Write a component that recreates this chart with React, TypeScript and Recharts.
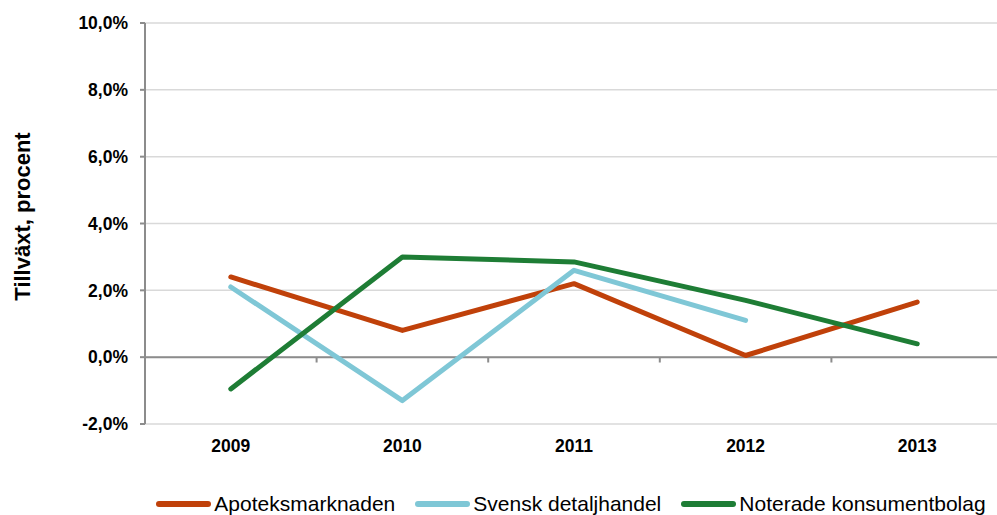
import { LineChart, Line, XAxis, YAxis, CartesianGrid, ReferenceLine, Label } from "recharts";

const years = ["2009", "2010", "2011", "2012", "2013"];
const apoteksmarknaden = [2.4, 0.8, 2.2, 0.05, 1.65];
const svenskDetaljhandel = [2.1, -1.3, 2.6, 1.1, null];
const noteradeKonsumentbolag = [-0.95, 3.0, 2.85, 1.7, 0.4];
const yTicks = [-2, 0, 2, 4, 6, 8, 10];

const series = [
  { key: "apotek", name: "Apoteksmarknaden", color: "#C0410A", values: apoteksmarknaden },
  { key: "svensk", name: "Svensk detaljhandel", color: "#7FC7D6", values: svenskDetaljhandel },
  { key: "noterade", name: "Noterade konsumentbolag", color: "#1E7D35", values: noteradeKonsumentbolag },
];

// x positions sit in the middle of each category band (Excel style)
const chartData = years.map((year, i) => {
  const row: Record<string, number | string | null> = { pos: i + 0.5, year };
  series.forEach((s) => {
    row[s.key] = s.values[i];
  });
  return row;
});

const labelTicks = years.map((_, i) => i + 0.5);
const boundaries = years.slice(1).map((_, i) => i + 1);

const font = "'Liberation Sans', Arial, sans-serif";
const axisGray = "#8C8C8C";

function YTitle(props: any) {
  const vb = props.viewBox || { x: 0, y: 0, width: 0, height: 0 };
  const cx = 22;
  const cy = vb.y + vb.height / 2 - 7;
  return (
    <text
      x={cx}
      y={cy}
      transform={`rotate(-90, ${cx}, ${cy})`}
      textAnchor="middle"
      dominantBaseline="central"
      style={{ fill: "#000", fontSize: 22, fontWeight: "bold", fontFamily: font }}
    >
      Tillväxt, procent
    </text>
  );
}

export default function App() {
  return (
    <div
      style={{
        position: "fixed",
        left: 0,
        top: 0,
        width: 997,
        height: 515,
        overflow: "hidden",
        background: "#fff",
        fontFamily: font,
      }}
    >
      <LineChart
        width={1012}
        height={515}
        data={chartData}
        margin={{ top: 23, right: 9, left: 0, bottom: 61 }}
      >
        <CartesianGrid vertical={false} stroke="#D9D9D9" strokeWidth={1.5} />
        <XAxis
          type="number"
          dataKey="pos"
          domain={[0, 5]}
          ticks={labelTicks}
          tickFormatter={(v: number) => years[Math.floor(v)]}
          axisLine={false}
          tickLine={false}
          height={30}
          tickMargin={10}
          tick={{ fill: "#000", fontSize: 17.5, fontWeight: "bold", fontFamily: font }}
        />
        <YAxis
          domain={[-2, 10]}
          ticks={yTicks}
          width={145}
          tickFormatter={(v: number) => v.toFixed(1).replace(".", ",") + "%"}
          axisLine={{ stroke: axisGray, strokeWidth: 2 }}
          tickLine={{ stroke: axisGray, strokeWidth: 2 }}
          tickSize={5}
          tickMargin={12}
          tick={{ fill: "#000", fontSize: 17.5, fontWeight: "bold", fontFamily: font }}
        >
          <Label content={<YTitle />} />
        </YAxis>
        <ReferenceLine y={0} stroke={axisGray} strokeWidth={2} />
        {boundaries.map((b) => (
          <ReferenceLine
            key={b}
            segment={[
              { x: b, y: 0 },
              { x: b, y: -0.16 },
            ]}
            stroke={axisGray}
            strokeWidth={2}
          />
        ))}
        {series.map((s) => (
          <Line
            key={s.key}
            type="linear"
            dataKey={s.key}
            name={s.name}
            stroke={s.color}
            strokeWidth={5}
            strokeLinecap="round"
            strokeLinejoin="round"
            dot={false}
            activeDot={false}
            isAnimationActive={false}
          />
        ))}
      </LineChart>
      <div
        style={{
          position: "absolute",
          left: 142,
          width: 858,
          top: 492,
          display: "flex",
          justifyContent: "center",
          gap: 20,
          fontSize: 21,
          color: "#000",
          lineHeight: "24px",
        }}
      >
        {series.map((s) => (
          <div key={s.key} style={{ display: "flex", alignItems: "center", whiteSpace: "nowrap" }}>
            <span
              style={{
                display: "inline-block",
                width: 55,
                height: 6,
                borderRadius: 3,
                background: s.color,
                marginRight: 3,
              }}
            />
            {s.name}
          </div>
        ))}
      </div>
    </div>
  );
}
